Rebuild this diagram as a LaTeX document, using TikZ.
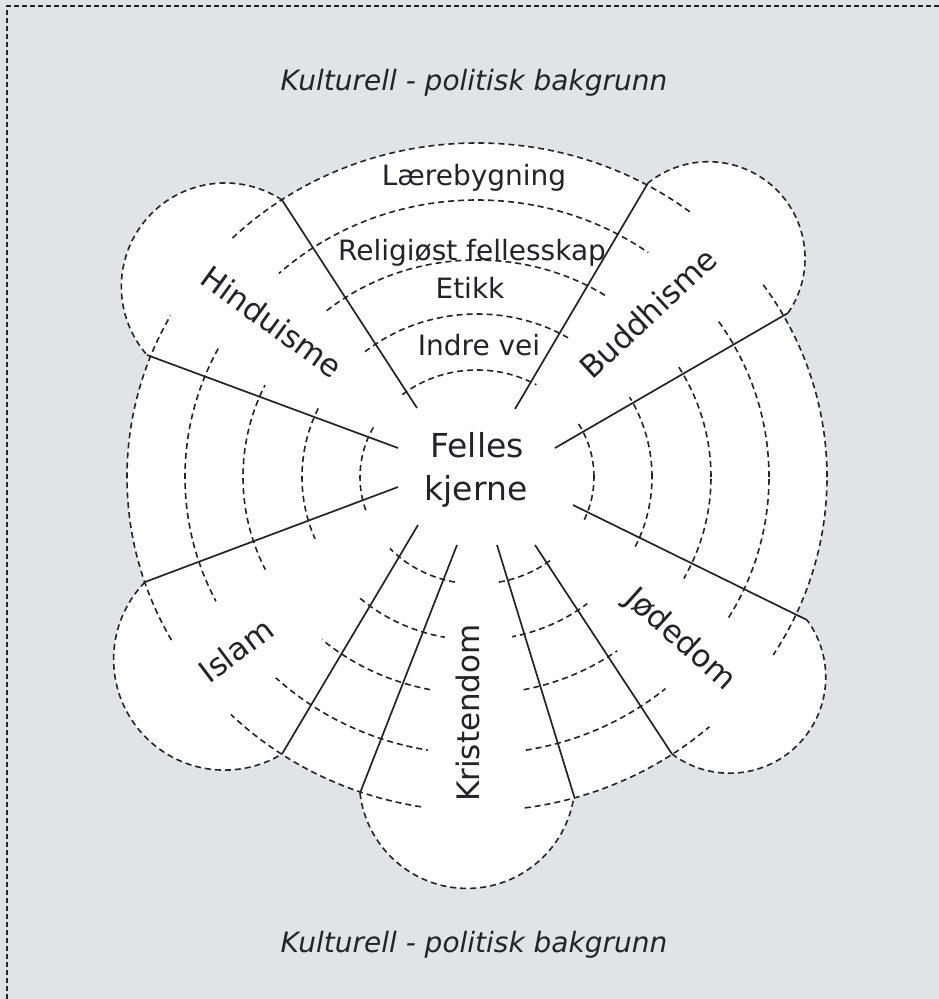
\documentclass[tikz,border=0pt]{standalone}
\usepackage{fontspec}
\setmainfont{DejaVu Sans}[ItalicFont={DejaVu Sans Oblique}]
\usetikzlibrary{calc}
\definecolor{paper}{RGB}{226,227,231}
\definecolor{ink}{RGB}{35,35,40}
% rounded end of a petal: A = right-hand end (looking outward), B = left-hand end
\newcommand\petalcap[4]{%
  \path[#1] let \p1=(#2), \p2=(#3),
    \n1={veclen(\x2-\x1,\y2-\y1)/2},
    \n2={atan2(\y2-\y1,\x2-\x1)},
    \n3={atan(14/\n1)},
    \n4={sqrt(\n1*\n1+196)}
  in (#2) arc[start angle=\n2+180+\n3, delta angle=180-2*\n3, radius=\n4] #4;}
\begin{document}
\begin{tikzpicture}[x=1pt,y=-1pt,
  cut/.style={draw=ink, line width=1.6pt, dash pattern=on 6pt off 4pt},
  rim/.style={draw=ink, line width=1.7pt},
  cover/.style={fill=white},
  lbl/.style={text=ink, inner sep=0pt, font=\fontsize{28}{31}\selectfont},
  core/.style={text=ink, inner sep=0pt, font=\fontsize{33}{36}\selectfont},
  rel/.style={text=ink, inner sep=0pt, font=\fontsize{31}{34}\selectfont},
  ttl/.style={text=ink, inner sep=0pt, font=\fontsize{28}{32}\selectfont\itshape}]
\useasboundingbox (0,0) rectangle (939,999);
\fill[paper] (0,0) rectangle (939,999);
\coordinate (BL) at (7,999);
\coordinate (TL) at (7,6);
\coordinate (TR) at (939,6);
\draw[ink, line width=1.3pt, dash pattern=on 5pt off 3pt] (BL) -- (TL) -- (TR);

\coordinate (O) at (477,477);
% radial lines: inner / outer ends
\coordinate (L1i) at (417,408);  \coordinate (L1o) at (282,200);
\coordinate (L2i) at (398,448);  \coordinate (L2o) at (147,355);
\coordinate (L3i) at (515,409);  \coordinate (L3o) at (648,183);
\coordinate (L4i) at (555,448);  \coordinate (L4o) at (788,313);
\coordinate (L5i) at (398,487);  \coordinate (L5o) at (145,582);
\coordinate (L6i) at (418,525);  \coordinate (L6o) at (282,754);
\coordinate (L7i) at (457,545);  \coordinate (L7o) at (360,793);
\coordinate (L8i) at (497,545);  \coordinate (L8o) at (574,796);
\coordinate (L9i) at (535,545);  \coordinate (L9o) at (672,754);
\coordinate (L10i) at (573,505); \coordinate (L10o) at (807,620);

% white flower
\fill[white] (O) ellipse[x radius=350pt, y radius=334pt];
\petalcap{fill=white}{L1o}{L2o}{-- (O) -- cycle}
\petalcap{fill=white}{L4o}{L3o}{-- (O) -- cycle}
\petalcap{fill=white}{L5o}{L6o}{-- (O) -- cycle}
\petalcap{fill=white}{L7o}{L8o}{-- (O) -- cycle}
\petalcap{fill=white}{L9o}{L10o}{-- (O) -- cycle}

% concentric layers
\draw[cut] (O) ellipse[x radius=117pt, y radius=107pt];
\draw[cut] (O) ellipse[x radius=175pt, y radius=163pt];
\draw[cut] (O) ellipse[x radius=234pt, y radius=217pt];
\draw[cut] (O) ellipse[x radius=292pt, y radius=277pt];
\draw[cut] (O) ellipse[x radius=350pt, y radius=334pt];

% petal strips covering the layers
\fill[cover] (418,421) -- (400,397) -- (365,352) -- (325,310) -- (278,273) -- (230,238) -- (220,231)
  -- (160,308) -- (170,315) -- (218,348) -- (265,385) -- (320,407) -- (373,427) -- (401,438) -- cycle;
\fill[cover] (518,412) -- (535,387) -- (568,338) -- (607,295) -- (648,253) -- (690,213) -- (699,205)
  -- (769,275) -- (760,283) -- (717,320) -- (677,367) -- (630,397) -- (577,422) -- (550,435) -- cycle;
\fill[cover] (391,498) -- (365,512) -- (313,540) -- (265,570) -- (215,602) -- (170,642) -- (160,649)
  -- (221,723) -- (230,715) -- (273,680) -- (320,642) -- (357,597) -- (390,548) -- (407,523) -- cycle;
\fill[cover] (460,553) -- (455,582) -- (445,637) -- (432,692) -- (428,750) -- (425,808) -- (424,820)
  -- (522,820) -- (522,808) -- (522,750) -- (522,693) -- (512,637) -- (495,582) -- (486,553) -- cycle;
\fill[cover] (554,506) -- (581,520) -- (635,548) -- (683,578) -- (728,618) -- (773,655) -- (782,662)
  -- (719,735) -- (710,727) -- (665,688) -- (618,652) -- (587,603) -- (552,558) -- (534,534) -- cycle;

% petal sides
\foreach \k in {1,...,10} \draw[rim] (L\k i) -- (L\k o);

% petal ends
\petalcap{cut}{L1o}{L2o}{}
\petalcap{cut}{L4o}{L3o}{}
\petalcap{cut}{L5o}{L6o}{}
\petalcap{cut}{L7o}{L8o}{}
\petalcap{cut}{L9o}{L10o}{}

% texts
\node[ttl, anchor=base] (t1) at (474,90) {Kulturell - politisk bakgrunn};
\node[ttl, anchor=base] (t2) at (474,952) {Kulturell - politisk bakgrunn};
\node[lbl, anchor=base] (l4) at (474,185) {Lærebygning};
\node[lbl, anchor=base] (l3) at (472,260) {Religiøst fellesskap};
\node[lbl, anchor=base] (l2) at (470,298) {Etikk};
\node[lbl, anchor=base] (l1) at (479,355) {Indre vei};
\node[core, anchor=base] (c1) at (477,457) {Felles};
\node[core, anchor=base] (c2) at (476,500) {kjerne};
\node[rel, rotate=-36] (hin) at (272,322) {Hinduisme};
\node[rel, rotate=43] (bud) at (648,313) {Buddhisme};
\node[rel, rotate=37] (isl) at (236,650) {Islam};
\node[rel, rotate=90] (kri) at (468,713) {Kristendom};
\node[rel, rotate=-42] (jod) at (680,640) {Jødedom};
\end{tikzpicture}
\end{document}
